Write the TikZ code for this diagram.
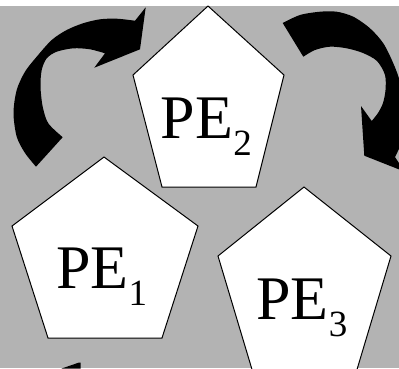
\documentclass[tikz,border=0pt]{standalone}
\usepackage{fontspec}
\setmainfont{Liberation Serif}
\definecolor{bg}{RGB}{179,179,179}
\tikzset{
  pent/.style={draw=black, fill=white, line width=1pt, line join=miter},
  lbl/.style={anchor=base west, inner sep=0pt, font=\fontsize{62}{62}\selectfont},
  bigarrow/.style={fill=black}
}
\newcommand\pesub[1]{\raisebox{-17pt}{\fontsize{37}{37}\selectfont #1}}
\begin{document}
\begin{tikzpicture}[x=1pt,y=-1pt]
\useasboundingbox (0,0) rectangle (399,368);
\clip (0,0) rectangle (399,368);
\fill[white] (0,0) rectangle (399,368);
\fill[bg] (0,6) rectangle (399,368);
% left curved arrow
\fill[bigarrow] plot[smooth] coordinates {(36,166.7) (25,153) (16.7,136.7) (13.5,113) (16.7,90) (25,71.7) (36.7,56.7) (51.7,40) (66.7,30) (83,23.3) (100,19.3) (116.7,18.7) (135,20.7)}
  -- (145.7,7.3) -- (140,49.3) -- (94.3,67.7)
  -- plot[smooth] coordinates {(105,53.3) (90,49.3) (73.3,48.3) (56.7,51.7) (46.7,58.3) (41.7,70) (40.5,86.7) (42.7,106.7) (48.3,123.3) (62.7,137.2)} -- cycle;
% right curved arrow
\fill[bigarrow] plot[smooth] coordinates {(282.7,23) (300,15) (320,11.7) (336.7,11.7) (353.3,16.7) (370,28.3) (383.3,43.3) (393.3,63.3) (400,82) (405,110) (403,138) (395,157)}
  -- (404.8,171.7) -- (364.3,155.7) -- (361,106)
  -- plot[smooth] coordinates {(371.7,121) (378,113) (383,103) (385.5,90) (385,75) (377,61) (363,53) (346.7,48.3) (330,46.7) (315,50) (303.3,56.7)} -- cycle;
% bottom-left arrow tip (cut off)
\fill[bigarrow] (61.7,368.5) -- (78.5,362.7) -- (80.5,362.7) -- (80.5,368.5) -- cycle;
% pentagons
\draw[pent] (208,6) -- (284,75) -- (256,187) -- (162,187) -- (133,75) -- cycle;
\draw[pent] (104,157) -- (198,226) -- (162,338) -- (48,338) -- (12,226) -- cycle;
\draw[pent] (304,187) -- (391,256) -- (357,369.5) -- (252,369.5) -- (218,256) -- cycle;
% labels
\node[lbl] (pe1) at (56,288.3) {PE\pesub{1}};
\node[lbl] (pe2) at (160.7,138.3) {PE\pesub{2}};
\node[lbl] (pe3) at (256.3,319.3) {PE\pesub{3}};
\end{tikzpicture}
\end{document}
